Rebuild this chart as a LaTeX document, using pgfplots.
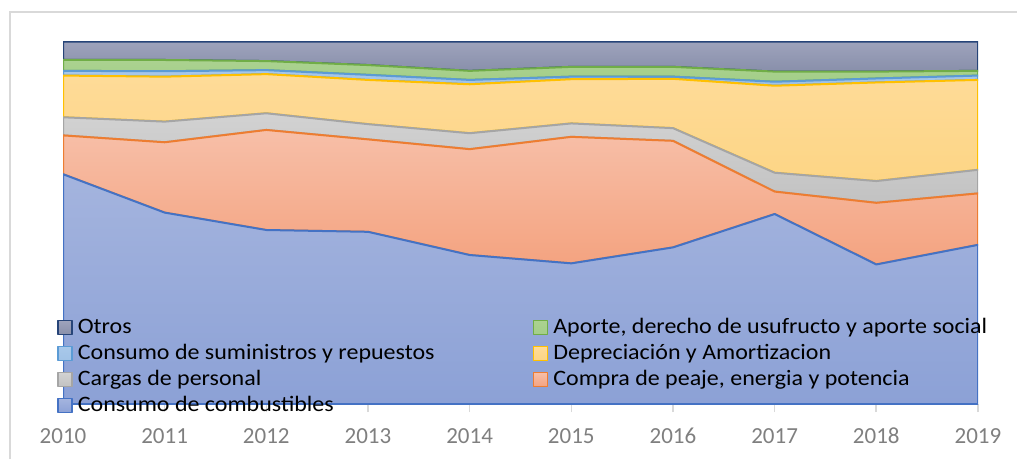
\documentclass[border=0pt]{standalone}
\usepackage{fontspec}
\setmainfont{Carlito}
\newfontfamily\legfont{Carlito}[FakeStretch=1.09]
\usepackage{pgfplots}
\pgfplotsset{compat=1.18}
\usepackage{pgfplotstable}

\definecolor{cComb}{HTML}{4472C4}
\definecolor{cCompra}{HTML}{ED7D31}
\definecolor{cCargas}{HTML}{A5A5A5}
\definecolor{cDep}{HTML}{FFC000}
\definecolor{cSum}{HTML}{5B9BD5}
\definecolor{cAporte}{HTML}{70AD47}
\definecolor{cOtros}{HTML}{264478}
\definecolor{frame}{HTML}{D9D9D9}
\definecolor{ticktext}{HTML}{7F7F7F}

% shares of total cost (%)
\pgfplotstableread{
year comb compra cargas dep sum aporte otros
2010 63.4 10.7 5.0 11.5 1.3 3.0 5.1
2011 52.8 19.4 5.7 12.4 1.5 3.1 5.1
2012 48.0 27.6 4.6 10.8 1.1 2.5 5.4
2013 47.5 25.5 4.2 12.2 1.4 2.7 6.5
2014 41.1 29.2 4.4 13.5 1.2 2.5 8.1
2015 38.8 34.9 3.7 12.2 0.7 2.7 7.0
2016 43.2 29.4 3.5 13.6 0.6 2.7 7.0
2017 52.4 6.2 5.2 24.0 1.1 2.8 8.3
2018 38.5 17.0 6.0 27.2 1.1 1.9 8.3
2019 43.9 14.2 6.5 24.8 1.2 1.3 8.1
}\costs

\newcommand{\legtxt}[1]{\makebox[450pt][l]{#1}}

\begin{document}
\begin{tikzpicture}
\begin{axis}[
  name=ax, at={(63pt,55pt)}, anchor=south west,
  scale only axis, width=915pt, height=362.5pt,
  xmin=2010, xmax=2019, ymin=0, ymax=100,
  stack plots=y, no markers,
  axis x line*=bottom, axis y line=none,
  x axis line style={-, draw=frame, line width=1.5pt},
  xtick={2010,...,2019}, ytick=\empty,
  xtick align=outside, major tick length=8pt,
  x tick style={draw=frame, line width=1.5pt},
  /pgf/number format/assume math mode=true,
  /pgf/number format/set thousands separator={},
  xticklabel style={font=\fontsize{23}{23}\selectfont, text=ticktext, anchor=base, yshift=-31pt},
  every axis plot/.append style={line width=2pt, line join=round},
  legend image code/.code={\draw[#1, line width=1.5pt] (0pt,-7pt) rectangle (14pt,7pt);},
  reverse legend, legend columns=2, legend cell align=left,
  legend style={at={(-0.0062,0.2463)}, anchor=north west, draw=none, fill=none,
    inner sep=0pt, outer sep=0pt, row sep=0pt,
    nodes={font=\legfont\fontsize{22}{22}\selectfont, text height=16pt, text depth=4pt,
      inner ysep=3pt, inner xsep=5pt}},
]
\addplot[draw=cComb, top color={rgb,255:red,164;green,180;blue,222}, bottom color={rgb,255:red,140;green,161;blue,214}]
  table[x=year, y=comb] {\costs} \closedcycle;
\addlegendentry{\legtxt{Consumo de combustibles}}
\addplot[draw=cCompra, top color={rgb,255:red,247;green,191;blue,168}, bottom color={rgb,255:red,244;green,163;blue,128}]
  table[x=year, y=compra] {\costs} \closedcycle;
\addlegendentry{\legtxt{Compra de peaje, energia y potencia}}
\addplot[draw=cCargas, top color={rgb,255:red,210;green,210;blue,210}, bottom color={rgb,255:red,194;green,194;blue,194}]
  table[x=year, y=cargas] {\costs} \closedcycle;
\addlegendentry{\legtxt{Cargas de personal}}
\addplot[draw=cDep, top color={rgb,255:red,254;green,219;blue,152}, bottom color={rgb,255:red,253;green,213;blue,133}]
  table[x=year, y=dep] {\costs} \closedcycle;
\addlegendentry{\legtxt{Depreciación y Amortizacion}}
\addplot[draw=cSum, top color={rgb,255:red,168;green,200;blue,234}, bottom color={rgb,255:red,160;green,194;blue,230}]
  table[x=year, y=sum] {\costs} \closedcycle;
\addlegendentry{\legtxt{Consumo de suministros y repuestos}}
\addplot[draw=cAporte, top color={rgb,255:red,171;green,210;blue,144}, bottom color={rgb,255:red,163;green,206;blue,136}]
  table[x=year, y=aporte] {\costs} \closedcycle;
\addlegendentry{\legtxt{Aporte, derecho de usufructo y aporte social}}
\addplot[draw=cOtros, top color={rgb,255:red,158;green,163;blue,188}, bottom color={rgb,255:red,136;green,143;blue,170}]
  table[x=year, y=otros] {\costs} \closedcycle;
\addlegendentry{\legtxt{Otros}}
\end{axis}
\pgfresetboundingbox
\useasboundingbox (0pt,0pt) rectangle (1017pt,459pt);
\draw[frame, line width=2pt] (10pt,0pt) -- (10pt,446.5pt) -- (1017pt,446.5pt);
\end{tikzpicture}
\end{document}
